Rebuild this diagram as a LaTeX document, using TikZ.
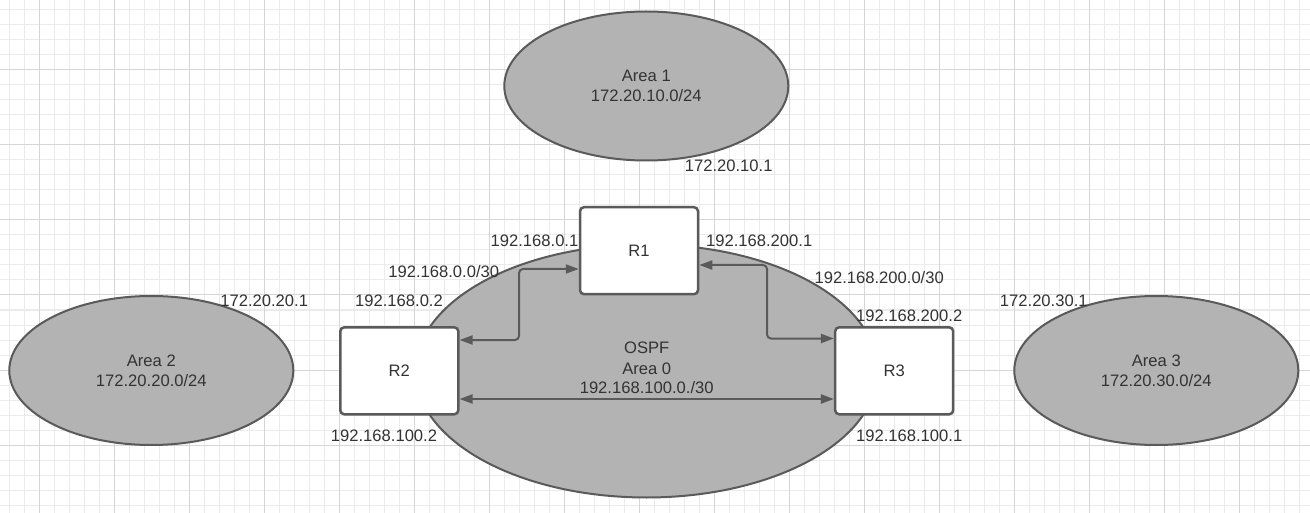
\documentclass[tikz,border=0pt]{standalone}
\usepackage{fontspec}
\setmainfont{Liberation Sans}
\usetikzlibrary{arrows.meta,shapes.geometric}
\definecolor{gridminor}{HTML}{EBEBEB}
\definecolor{gridmajor}{HTML}{D6D6D6}
\definecolor{areafill}{HTML}{B3B3B3}
\definecolor{edgec}{HTML}{5A5A5A}
\definecolor{ink}{HTML}{333333}
\begin{document}
\begin{tikzpicture}[x=1pt,y=-1pt,
  area/.style={ellipse, draw=edgec, fill=areafill, line width=2pt, inner sep=0pt},
  router/.style={rectangle, rounded corners=4pt, draw=edgec, fill=white, line width=2.5pt,
    minimum width=118pt, minimum height=87pt, inner sep=0pt, text=ink,
    font=\fontsize{16.6}{20}\selectfont},
  lbl/.style={text=ink, font=\fontsize{16.6}{20}\selectfont, inner sep=0pt, anchor=base},
  conn/.style={draw=edgec, line width=2pt, rounded corners=4pt,
    {Triangle[length=13pt,width=9pt]}-{Triangle[length=13pt,width=9pt]}}
]
\useasboundingbox (0,0) rectangle (1310,513);
\fill[white] (0,0) rectangle (1310,513);
% grid
\foreach \x in {9.3,24.3,...,1310} \draw[gridminor, line width=1pt] (\x,0) -- (\x,513);
\foreach \y in {10,25,...,513} \draw[gridminor, line width=1pt] (0,\y) -- (1310,\y);
\foreach \x in {39.3,114.3,...,1310} \draw[gridmajor, line width=1pt] (\x,0) -- (\x,513);
\foreach \y in {70,145,...,513} \draw[gridmajor, line width=1pt] (0,\y) -- (1310,\y);

% areas
\node[area, minimum width=284pt, minimum height=149pt] (a1) at (646.3,86) {};
\node[area, minimum width=284pt, minimum height=149pt] (a2) at (151.3,370.5) {};
\node[area, minimum width=284pt, minimum height=149pt] (a3) at (1156.3,370.5) {};
\node[area, minimum width=462pt, minimum height=253pt] (a0) at (646.5,371) {};

% routers
\node[router] (r1) at (639,250.7) {R1};
\node[router] (r2) at (399.3,370.8) {R2};
\node[router] (r3) at (894.2,370.8) {R3};

% bends
\coordinate (b1) at (519,269);
\coordinate (b2) at (519,340);
\coordinate (b3) at (767,265);
\coordinate (b4) at (767,338.5);
\coordinate (b5) at (646,399);

\draw[conn] (r1.west |- b1) -- (b1) -- (b2) -- (r2.east |- b2);
\draw[conn] (r1.east |- b3) -- (b3) -- (b4) -- (r3.west |- b4);
\draw[conn] (r2.east |- b5) -- (r3.west |- b5);

% area labels
\node[lbl] (t1a) at (646.3,81.7) {Area 1};
\node[lbl] (t1b) at (646.3,101.4) {172.20.10.0/24};
\node[lbl] (t2a) at (151.3,366.7) {Area 2};
\node[lbl] (t2b) at (151.3,386.7) {172.20.20.0/24};
\node[lbl] (t3a) at (1156.3,366.7) {Area 3};
\node[lbl] (t3b) at (1156.3,386.7) {172.20.30.0/24};
\node[lbl] (t0a) at (646.7,353.4) {OSPF};
\node[lbl] (t0b) at (646.7,374.2) {Area 0};
\node[lbl] (t0c) at (646.7,393.4) {192.168.100.0./30};

% interface labels
\node[lbl] (i1) at (534.5,246.7) {192.168.0.1};
\node[lbl] (i2) at (443.7,277.1) {192.168.0.0/30};
\node[lbl] (i3) at (399,306.7) {192.168.0.2};
\node[lbl] (i4) at (759.2,246.7) {192.168.200.1};
\node[lbl] (i5) at (879.2,283.4) {192.168.200.0/30};
\node[lbl] (i6) at (909.2,321.7) {192.168.200.2};
\node[lbl] (i7) at (728.7,172) {172.20.10.1};
\node[lbl] (i8) at (264.2,306.7) {172.20.20.1};
\node[lbl] (i9) at (1043.8,306.7) {172.20.30.1};
\node[lbl] (i10) at (909.2,441.7) {192.168.100.1};
\node[lbl] (i11) at (384,441.7) {192.168.100.2};
\end{tikzpicture}
\end{document}
